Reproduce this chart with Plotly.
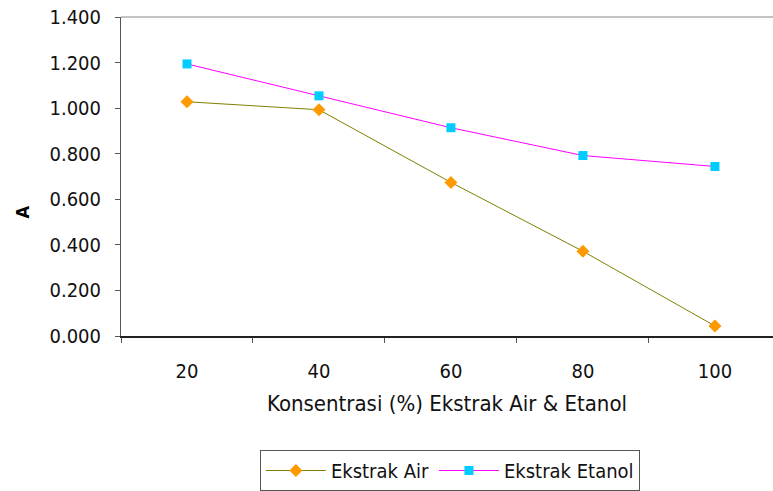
import plotly.graph_objects as go

# Concentration categories (%) and measured values for each extract
konsentrasi = ["20", "40", "60", "80", "100"]
ekstrak_air = [1.028, 0.993, 0.674, 0.372, 0.044]
ekstrak_etanol = [1.194, 1.054, 0.914, 0.792, 0.744]
y_ticks = [0.0, 0.2, 0.4, 0.6, 0.8, 1.0, 1.2, 1.4]
y_tick_text = ["0.000", "0.200", "0.400", "0.600", "0.800", "1.000", "1.200", "1.400"]

FONT = "DejaVu Sans Condensed, Liberation Sans Narrow, Arial Narrow, sans-serif"

fig = go.Figure()
fig.add_trace(go.Scatter(
    x=konsentrasi, y=ekstrak_air, name="Ekstrak Air", mode="lines+markers",
    line=dict(color="#808000", width=1),
    marker=dict(symbol="diamond", size=10, color="#FF9900"),
))
fig.add_trace(go.Scatter(
    x=konsentrasi, y=ekstrak_etanol, name="Ekstrak Etanol", mode="lines+markers",
    line=dict(color="#FF00FF", width=1),
    marker=dict(symbol="square", size=9, color="#00CCFF"),
))

fig.update_layout(
    width=773, height=491,
    margin=dict(l=121, r=0, t=17, b=154),
    plot_bgcolor="white", paper_bgcolor="white",
    font=dict(family=FONT, size=19, color="#111111"),
    showlegend=True,
    legend=dict(
        orientation="h", x=0.213, y=-0.356, xanchor="left", yanchor="top",
        bordercolor="#555555", borderwidth=1, font=dict(size=20),
        itemwidth=60, tracegroupgap=0,
    ),
    xaxis=dict(
        type="category", range=[-0.5, 4.44], tickson="boundaries",
        ticks="outside", ticklen=5, tickcolor="#555555",
        showline=True, linecolor="#222222", linewidth=1.5,
        showgrid=False, zeroline=False,
        tickfont=dict(size=20), ticklabelstandoff=16,
        title=dict(text="Konsentrasi (%) Ekstrak Air & Etanol", font=dict(size=22), standoff=14),
    ),
    yaxis=dict(
        range=[0, 1.4], tickvals=y_ticks, ticktext=y_tick_text,
        ticks="outside", ticklen=5, tickcolor="#555555",
        showline=True, linecolor="#555555", linewidth=1,
        showgrid=False, zeroline=False,
        tickfont=dict(size=20), ticklabelstandoff=10,
    ),
    annotations=[dict(
        text="<b>A</b>", xref="paper", yref="paper",
        x=(22 - 121) / 652, y=(337 - 212) / 320, xanchor="center", yanchor="middle",
        showarrow=False, textangle=-90, font=dict(size=18, color="black"),
    )],
    shapes=[dict(type="line", xref="paper", yref="paper", x0=0, x1=1, y0=1, y1=1,
                 line=dict(color="#888888", width=1))],
)

fig.write_html("out.html")
